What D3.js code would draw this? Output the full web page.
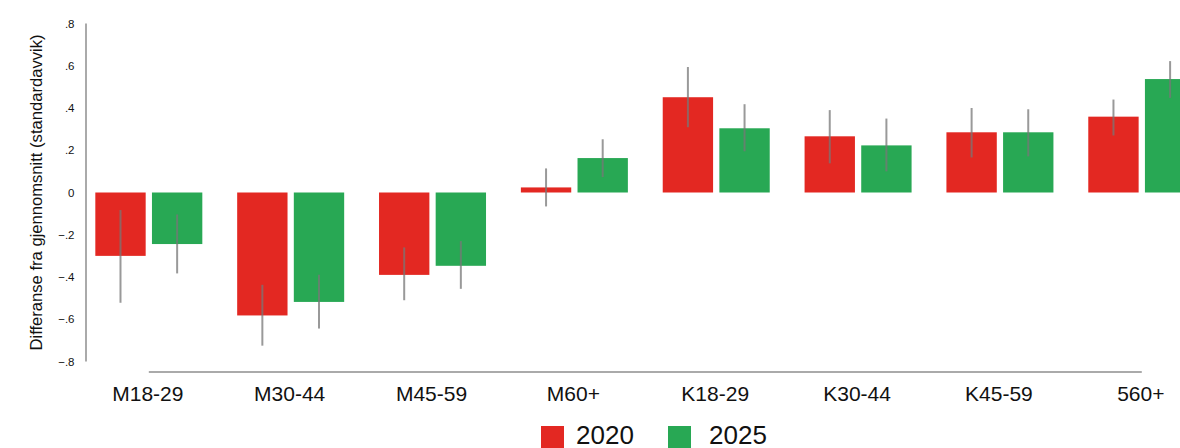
<!DOCTYPE html>
<html>
<head>
<meta charset="utf-8">
<script src="https://cdn.jsdelivr.net/npm/d3@7"></script>
<style>
  body { margin: 0; background: #fff; }
  svg { display: block; font-family: "Liberation Sans", Arial, sans-serif; }
</style>
</head>
<body>
<svg id="chart" width="1180" height="448"></svg>
<script>
// categories and series
var groups = ["M18-29", "M30-44", "M45-59", "M60+", "K18-29", "K30-44", "K45-59", "560+"]
var years = ["2020", "2025"]
var yTicks = [0.8, 0.6, 0.4, 0.2, 0, -0.2, -0.4, -0.6, -0.8]

var val2020 = [-0.30, -0.582, -0.39, 0.024, 0.451, 0.266, 0.285, 0.359]
var low2020 = [-0.522, -0.725, -0.51, -0.066, 0.309, 0.138, 0.166, 0.27]
var high2020 = [-0.083, -0.437, -0.26, 0.114, 0.594, 0.39, 0.40, 0.44]

var val2025 = [-0.244, -0.518, -0.347, 0.163, 0.304, 0.223, 0.285, 0.537]
var low2025 = [-0.383, -0.644, -0.456, 0.073, 0.195, 0.10, 0.171, 0.448]
var high2025 = [-0.104, -0.389, -0.23, 0.252, 0.418, 0.35, 0.394, 0.622]

var colors = { "2020": "#e32822", "2025": "#28a854" }

var data = []
groups.forEach(function (g, i) {
    data.push({ group: g, year: "2020", value: val2020[i], low: low2020[i], high: high2020[i] })
    data.push({ group: g, year: "2025", value: val2025[i], low: low2025[i], high: high2025[i] })
})

var svg = d3.select("#chart")

var x = d3.scaleBand()
    .domain(groups)
    .range([77.9, 1212.7])
    .paddingInner(0.2457)
    .paddingOuter(0.1228)

var xInner = d3.scaleBand()
    .domain(years)
    .range([0, x.bandwidth()])
    .paddingInner(0.111)

var y = d3.scaleLinear()
    .domain([-0.8, 0.8])
    .range([361.5, 23.5])

// y axis line and tick labels
svg.append("line")
    .attr("x1", 86).attr("x2", 86)
    .attr("y1", y(0.8)).attr("y2", y(-0.8))
    .attr("stroke", "#aaa").attr("stroke-width", 2)

svg.selectAll(".ytick")
    .data(yTicks)
    .enter()
    .append("text")
    .attr("class", "ytick")
    .attr("x", 74.5)
    .attr("y", function (d) { return y(d) })
    .attr("dy", "0.35em")
    .attr("text-anchor", "end")
    .attr("font-size", "11.5px")
    .attr("fill", "#111")
    .text(function (d) {
        if (d == 0) return "0"
        return d3.format(".1f")(d).replace("0.", ".")
    })

svg.append("text")
    .attr("transform", "translate(42," + y(0) + ") rotate(-90)")
    .attr("text-anchor", "middle")
    .attr("font-size", "16.6px")
    .attr("fill", "#111")
    .text("Differanse fra gjennomsnitt (standardavvik)")

// x axis line from first to last group center
svg.append("line")
    .attr("x1", x(groups[0]) + x.bandwidth() / 2)
    .attr("x2", x(groups[groups.length - 1]) + x.bandwidth() / 2)
    .attr("y1", 372).attr("y2", 372)
    .attr("stroke", "#aaa").attr("stroke-width", 2)

svg.selectAll(".xlabel")
    .data(groups)
    .enter()
    .append("text")
    .attr("class", "xlabel")
    .attr("x", function (d) { return x(d) + x.bandwidth() / 2 - 1 })
    .attr("y", 401)
    .attr("text-anchor", "middle")
    .attr("font-size", "21px")
    .attr("fill", "#111")
    .text(function (d) { return d })

// bars
svg.selectAll(".bar")
    .data(data)
    .enter()
    .append("rect")
    .attr("class", "bar")
    .attr("x", function (d) { return x(d.group) + xInner(d.year) })
    .attr("width", xInner.bandwidth())
    .attr("y", function (d) { return y(Math.max(0, d.value)) })
    .attr("height", function (d) { return Math.abs(y(d.value) - y(0)) })
    .attr("fill", function (d) { return colors[d.year] })

// error bars
svg.selectAll(".err")
    .data(data)
    .enter()
    .append("line")
    .attr("class", "err")
    .attr("x1", function (d) { return x(d.group) + xInner(d.year) + xInner.bandwidth() / 2 })
    .attr("x2", function (d) { return x(d.group) + xInner(d.year) + xInner.bandwidth() / 2 })
    .attr("y1", function (d) { return y(d.high) })
    .attr("y2", function (d) { return y(d.low) })
    .attr("stroke", "#777")
    .attr("stroke-opacity", 0.75)
    .attr("stroke-width", 2)

// legend
var legendX = [541, 668]
var legend = svg.selectAll(".legend")
    .data(years)
    .enter()
    .append("g")
    .attr("class", "legend")
    .attr("transform", function (d, i) { return "translate(" + legendX[i] + ",0)" })

legend.append("rect")
    .attr("x", 0).attr("y", 426)
    .attr("width", 23).attr("height", 22)
    .attr("fill", function (d) { return colors[d] })

legend.append("text")
    .attr("x", function (d, i) { return i == 0 ? 35 : 41 })
    .attr("y", 444)
    .attr("font-size", "26px")
    .attr("fill", "#111")
    .text(function (d) { return d })
</script>
</body>
</html>
